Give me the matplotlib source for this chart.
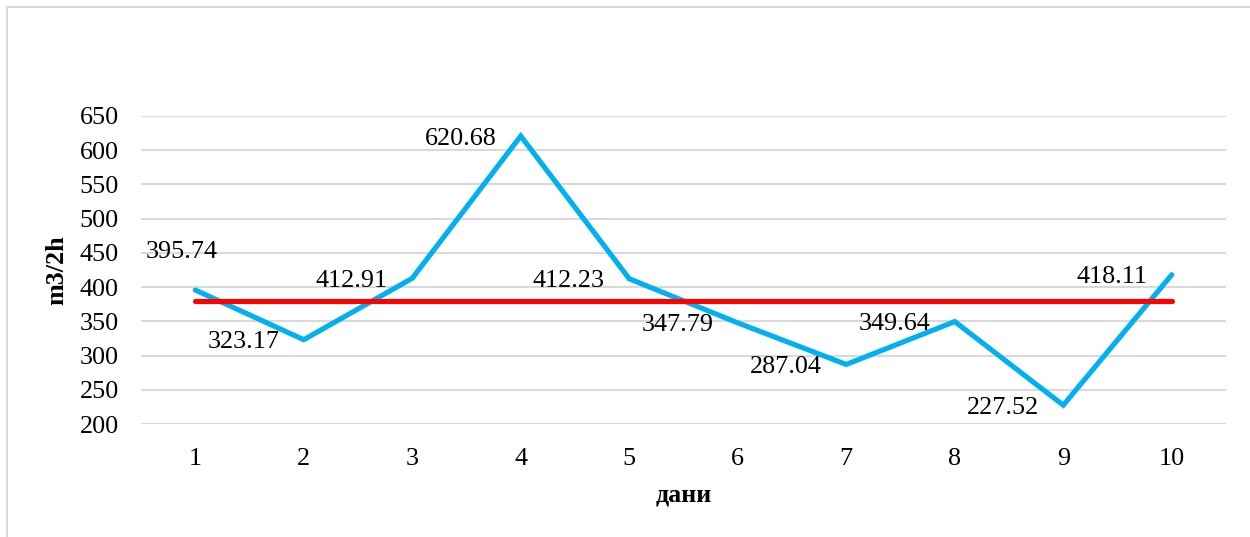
import matplotlib
matplotlib.use('Agg')
import matplotlib.pyplot as plt
from matplotlib.lines import Line2D

days = [1, 2, 3, 4, 5, 6, 7, 8, 9, 10]
flow = [395.74, 323.17, 412.91, 620.68, 412.23, 347.79, 287.04, 349.64, 227.52, 418.11]
average = [379.48] * len(days)
yticks = [200, 250, 300, 350, 400, 450, 500, 550, 600, 650]

plt.rcParams['font.family'] = ['Liberation Serif', 'DejaVu Serif']
FS = 18.8

fig = plt.figure(figsize=(12.5, 5.37), dpi=100)
ax = fig.add_axes([0.1128, 0.2104, 0.868, 0.5736])

ax.plot(days, flow, color='#00B0F0', lw=3.7, solid_capstyle='round',
        solid_joinstyle='miter', zorder=3)
ax.plot(days, average, color='#FF0000', lw=3.7, solid_capstyle='round', zorder=4)

# value labels sit to the left of each point; the first one is lifted above
for i, (x, y) in enumerate(zip(days, flow)):
    if i == 0:
        off = (16.5, 29)
    else:
        off = (-17.5, 0)
    ax.annotate(f'{y:.2f}', (x, y), xytext=off, textcoords='offset points',
                ha='right', va='center_baseline', fontsize=FS, color='black', zorder=5)

ax.set_xlim(0.5, 10.5)
ax.set_ylim(200, 650)
ax.set_xticks(days)
ax.set_yticks(yticks)
ax.tick_params(length=0, labelsize=FS, colors='black')
ax.tick_params(axis='x', pad=17)
ax.tick_params(axis='y', pad=16)
ax.grid(axis='y', color='#D9D9D9', lw=1.5)
ax.set_axisbelow(True)
for s in ax.spines.values():
    s.set_visible(False)

ax.set_xlabel('дани', fontsize=FS, fontweight='bold', labelpad=10)
ax.set_ylabel('m3/2h', fontsize=FS, fontweight='bold', labelpad=8)

# chart frame, top and left edges only
fig.add_artist(Line2D([7 / 1250, 1], [1 - 7 / 537, 1 - 7 / 537],
                      color='#D9D9D9', lw=1.5, transform=fig.transFigure))
fig.add_artist(Line2D([7 / 1250, 7 / 1250], [0, 1 - 7 / 537],
                      color='#D9D9D9', lw=1.5, transform=fig.transFigure))

fig.savefig('out.png', dpi=100)
